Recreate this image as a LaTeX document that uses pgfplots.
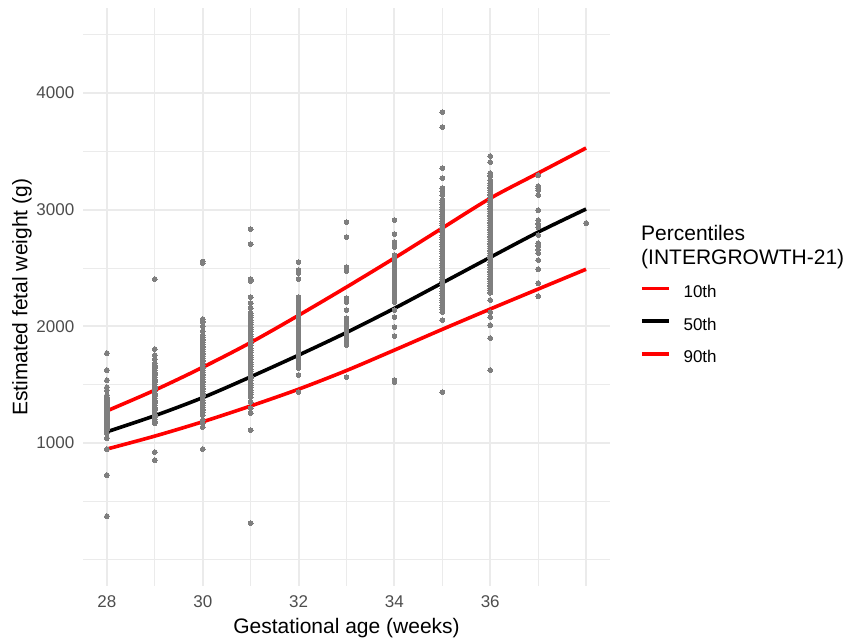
\documentclass[border=0pt]{standalone}
\usepackage{fontspec}
\setmainfont{Liberation Sans}
\usepackage{pgfplots}
\pgfplotsset{compat=1.18}
\definecolor{gridgray}{HTML}{EBEBEB}
\definecolor{ticktext}{HTML}{4D4D4D}
\definecolor{ptgray}{HTML}{7F7F7F}
\definecolor{pred}{HTML}{FF0000}

\begin{document}
\begin{tikzpicture}
\path[use as bounding box] (-83pt,-55pt) rectangle (766pt,586pt);
\begin{axis}[
  at={(0pt,0pt)}, anchor=south west,
  scale only axis, width=527pt, height=577.5pt,
  xmin=27.5, xmax=38.5, ymin=-225, ymax=4725,
  axis line style={draw=none},
  major tick length=0pt, minor tick length=0pt,
  xtick={28,30,32,34,36}, minor xtick={29,31,33,35,37,38},
  ytick={1000,2000,3000,4000}, minor ytick={0,500,1500,2500,3500,4500},
  grid=both,
  major grid style={gridgray, line width=2pt},
  minor grid style={gridgray, line width=1.1pt},
  scaled y ticks=false,
  /pgf/number format/1000 sep={},
  /pgf/number format/assume math mode=true,
  tick label style={font=\fontsize{17}{20}\selectfont, text=ticktext, inner sep=0pt},
  xticklabel style={yshift=-9pt},
  yticklabel style={xshift=-8.5pt},
  xlabel={Gestational age (weeks)},
  ylabel={Estimated fetal weight (g)},
  every axis x label/.style={at={(axis description cs:0.5,-0.073)}, anchor=center,
    font=\fontsize{21}{24}\selectfont, inner sep=0pt},
  every axis y label/.style={at={(axis description cs:-0.1157,0.5)}, rotate=90, anchor=center,
    font=\fontsize{21}{24}\selectfont, inner sep=0pt},
  legend style={draw=none, fill=none, inner sep=0pt, outer sep=0pt,
    at={(axis description cs:1.0569,0.5212)}, anchor=north west,
    font=\fontsize{17}{20}\selectfont, row sep=19pt, nodes={inner sep=0pt},
    /tikz/every odd column/.append style={column sep=13pt}},
  legend cell align=left,
  legend image code/.code={\draw[#1, line width=3.6pt] (0pt,0.36em) -- (27pt,0.36em);},
]
\addplot[only marks, color=ptgray, mark=*, mark size=2.4pt, mark options={draw=ptgray, fill=ptgray, line width=0pt}, forget plot]
  table[row sep=\\] {
x y\\
28 1771\\ 28 1626\\ 28 1540\\ 28 1480\\ 28 1454\\ 28 1411\\ 28 1395\\ 28 1380\\ 28 1365\\ 28 1350\\
28 1335\\ 28 1320\\ 28 1305\\ 28 1290\\ 28 1275\\ 28 1260\\ 28 1245\\ 28 1230\\ 28 1215\\ 28 1200\\
28 1185\\ 28 1170\\ 28 1155\\ 28 1140\\ 28 1125\\ 28 1111\\ 28 1086\\ 28 1043\\ 28 949\\ 28 726\\ 28 374\\
29 2406\\ 29 1806\\ 29 1754\\ 29 1720\\ 29 1686\\ 29 1665\\ 29 1645\\ 29 1625\\ 29 1605\\ 29 1585\\
29 1565\\ 29 1545\\ 29 1525\\ 29 1505\\ 29 1485\\ 29 1465\\ 29 1445\\ 29 1425\\ 29 1405\\ 29 1385\\
29 1365\\ 29 1345\\ 29 1325\\ 29 1305\\ 29 1285\\ 29 1265\\ 29 1245\\ 29 1225\\ 29 1205\\ 29 1185\\
29 1171\\ 29 923\\ 29 854\\
30 2557\\ 30 2543\\ 30 2063\\ 30 2040\\ 30 2000\\ 30 1960\\ 30 1926\\ 30 1905\\ 30 1885\\ 30 1865\\
30 1845\\ 30 1825\\ 30 1805\\ 30 1785\\ 30 1765\\ 30 1745\\ 30 1725\\ 30 1705\\ 30 1685\\ 30 1665\\
30 1645\\ 30 1625\\ 30 1605\\ 30 1585\\ 30 1565\\ 30 1545\\ 30 1525\\ 30 1505\\ 30 1485\\ 30 1465\\
30 1445\\ 30 1425\\ 30 1405\\ 30 1385\\ 30 1365\\ 30 1345\\ 30 1325\\ 30 1305\\ 30 1285\\ 30 1265\\
30 1240\\ 30 1197\\ 30 1170\\ 30 1137\\ 30 949\\
31 2834\\ 31 2706\\ 31 2406\\ 31 2390\\ 31 2251\\ 31 2200\\ 31 2157\\ 31 2114\\ 31 2095\\ 31 2075\\
31 2055\\ 31 2035\\ 31 2015\\ 31 1995\\ 31 1975\\ 31 1955\\ 31 1935\\ 31 1915\\ 31 1895\\ 31 1875\\
31 1855\\ 31 1835\\ 31 1815\\ 31 1795\\ 31 1775\\ 31 1755\\ 31 1735\\ 31 1715\\ 31 1695\\ 31 1675\\
31 1655\\ 31 1635\\ 31 1615\\ 31 1595\\ 31 1575\\ 31 1555\\ 31 1535\\ 31 1515\\ 31 1495\\ 31 1475\\
31 1455\\ 31 1435\\ 31 1415\\ 31 1394\\ 31 1351\\ 31 1300\\ 31 1257\\ 31 1111\\ 31 314\\
32 2551\\ 32 2483\\ 32 2457\\ 32 2406\\ 32 2251\\ 32 2226\\ 32 2205\\ 32 2185\\ 32 2165\\ 32 2145\\
32 2125\\ 32 2105\\ 32 2085\\ 32 2065\\ 32 2045\\ 32 2025\\ 32 2005\\ 32 1985\\ 32 1965\\ 32 1945\\
32 1925\\ 32 1905\\ 32 1885\\ 32 1865\\ 32 1845\\ 32 1825\\ 32 1805\\ 32 1785\\ 32 1765\\ 32 1745\\
32 1725\\ 32 1705\\ 32 1685\\ 32 1665\\ 32 1643\\ 32 1583\\ 32 1437\\
33 2894\\ 33 2766\\ 33 2509\\ 33 2474\\ 33 2243\\ 33 2209\\ 33 2140\\ 33 2071\\ 33 2050\\ 33 2030\\
33 2010\\ 33 1990\\ 33 1970\\ 33 1950\\ 33 1930\\ 33 1910\\ 33 1890\\ 33 1870\\ 33 1850\\ 33 1840\\ 33 1566\\
34 2911\\ 34 2791\\ 34 2723\\ 34 2700\\ 34 2680\\ 34 2611\\ 34 2590\\ 34 2570\\ 34 2550\\ 34 2530\\
34 2510\\ 34 2490\\ 34 2470\\ 34 2450\\ 34 2430\\ 34 2410\\ 34 2390\\ 34 2370\\ 34 2350\\ 34 2330\\
34 2310\\ 34 2290\\ 34 2270\\ 34 2250\\ 34 2230\\ 34 2209\\ 34 2140\\ 34 2080\\ 34 1994\\ 34 1917\\
34 1540\\ 34 1523\\
35 3837\\ 35 3709\\ 35 3357\\ 35 3271\\ 35 3186\\ 35 3160\\ 35 3126\\ 35 3083\\ 35 3063\\ 35 3043\\
35 3023\\ 35 3003\\ 35 2983\\ 35 2963\\ 35 2943\\ 35 2923\\ 35 2903\\ 35 2883\\ 35 2863\\ 35 2843\\
35 2823\\ 35 2803\\ 35 2783\\ 35 2763\\ 35 2743\\ 35 2723\\ 35 2703\\ 35 2683\\ 35 2663\\ 35 2643\\
35 2623\\ 35 2603\\ 35 2583\\ 35 2563\\ 35 2543\\ 35 2523\\ 35 2503\\ 35 2483\\ 35 2463\\ 35 2443\\
35 2423\\ 35 2403\\ 35 2383\\ 35 2363\\ 35 2343\\ 35 2323\\ 35 2303\\ 35 2283\\ 35 2263\\ 35 2243\\
35 2223\\ 35 2203\\ 35 2183\\ 35 2163\\ 35 2143\\ 35 2123\\ 35 2054\\ 35 1437\\
36 3460\\ 36 3409\\ 36 3314\\ 36 3290\\ 36 3254\\ 36 3229\\ 36 3209\\ 36 3189\\ 36 3169\\ 36 3149\\
36 3129\\ 36 3109\\ 36 3089\\ 36 3069\\ 36 3049\\ 36 3029\\ 36 3009\\ 36 2989\\ 36 2969\\ 36 2949\\
36 2929\\ 36 2909\\ 36 2889\\ 36 2869\\ 36 2849\\ 36 2829\\ 36 2809\\ 36 2789\\ 36 2769\\ 36 2749\\
36 2729\\ 36 2709\\ 36 2689\\ 36 2669\\ 36 2649\\ 36 2629\\ 36 2609\\ 36 2589\\ 36 2569\\ 36 2549\\
36 2529\\ 36 2509\\ 36 2489\\ 36 2469\\ 36 2449\\ 36 2429\\ 36 2409\\ 36 2389\\ 36 2369\\ 36 2349\\
36 2329\\ 36 2309\\ 36 2289\\ 36 2226\\ 36 2123\\ 36 2080\\ 36 2011\\ 36 1900\\ 36 1626\\
37 3297\\ 37 3203\\ 37 3186\\ 37 3169\\ 37 3126\\ 37 2997\\ 37 2911\\ 37 2880\\ 37 2851\\ 37 2783\\
37 2714\\ 37 2690\\ 37 2660\\ 37 2629\\ 37 2569\\ 37 2491\\ 37 2371\\ 37 2260\\
38 2886\\
};
\addplot[pred, line width=3.6pt, smooth] coordinates {
(28,1276) (29,1454) (30,1650) (31,1862) (32,2095) (33,2337) (34,2586) (35,2843) (36,3098) (37,3314) (38,3529)};
\addlegendentry{10th}
\addplot[black, line width=3.6pt, smooth] coordinates {
(28,1097) (29,1235) (30,1390) (31,1568) (32,1754) (33,1948) (34,2155) (35,2373) (36,2592) (37,2808) (38,3006)};
\addlegendentry{50th}
\addplot[pred, line width=3.6pt, smooth] coordinates {
(28,949) (29,1060) (30,1183) (31,1318) (32,1462) (33,1622) (34,1797) (35,1975) (36,2149) (37,2320) (38,2490)};
\addlegendentry{90th}
\end{axis}
\node[anchor=base west, inner sep=0pt, font=\fontsize{21}{24}\selectfont] at (558pt,345pt) {Percentiles};
\node[anchor=base west, inner sep=0pt, font=\fontsize{21}{24}\selectfont] at (558pt,322pt) {(INTERGROWTH-21)};
\end{tikzpicture}
\end{document}
